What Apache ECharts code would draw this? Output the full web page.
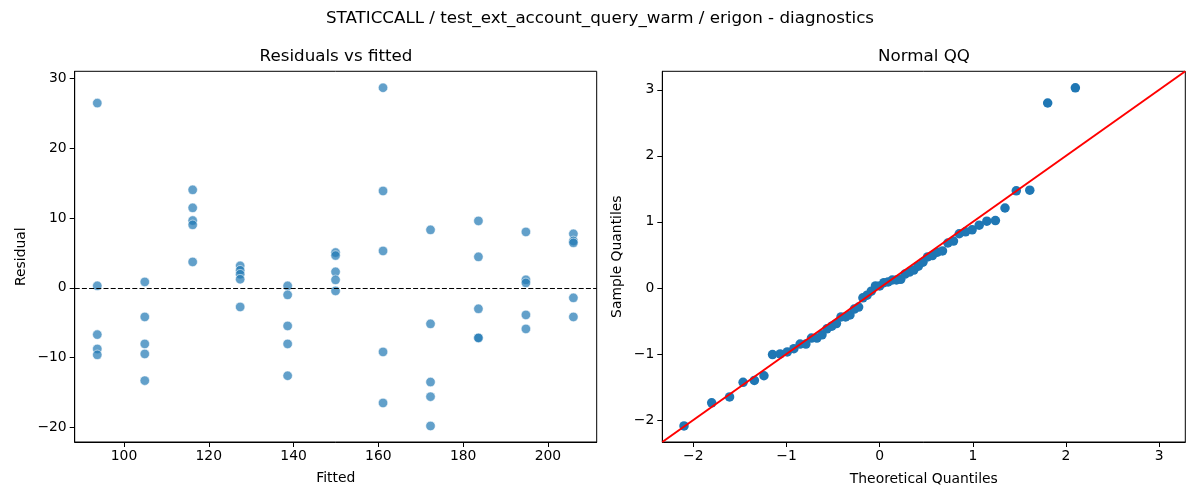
<!DOCTYPE html>
<html>
<head>
<meta charset="utf-8">
<script src="https://cdn.jsdelivr.net/npm/echarts@6/dist/echarts.min.js"></script>
<style>
  html, body { margin: 0; padding: 0; background: #fff; }
  #chart { width: 1200px; height: 500px; }
</style>
</head>
<body>
<div id="chart"></div>
<script>
// residuals vs fitted: one fitted level per group
const fittedLevels = [93.7, 104.9, 116.2, 127.4, 138.6, 149.9, 161.1, 172.3, 183.6, 194.8, 206.0];
const residualGroups = [
  [26.5, 0.3, -6.7, -8.75, -9.6],
  [0.86, -4.16, -8.03, -9.47, -13.3],
  [14.06, 11.48, 9.66, 9.04, 3.73],
  [3.16, 2.53, 1.96, 1.24, -2.73],
  [0.29, -1.0, -5.45, -8.03, -12.6],
  [5.07, 4.64, 2.3, 1.15, -0.43],
  [28.7, 13.9, 5.3, -9.18, -16.5],
  [8.32, -5.16, -13.5, -15.6, -19.8],
  [9.61, 4.45, -3.0, -7.17, -7.17],
  [8.03, 1.15, 0.72, -3.87, -5.88],
  [7.75, 6.74, 6.46, -1.43, -4.16],
];

// normal QQ
const theoreticalQuantiles = [
  -2.100, -1.803, -1.611, -1.466, -1.345, -1.242, -1.150, -1.068, -0.992, -0.921,
  -0.854, -0.792, -0.732, -0.674, -0.619, -0.566, -0.514, -0.464, -0.415, -0.366,
  -0.319, -0.272, -0.226, -0.180, -0.135, -0.090, -0.045, 0.000, 0.045, 0.090,
  0.135, 0.180, 0.226, 0.272, 0.319, 0.366, 0.415, 0.464, 0.514, 0.566,
  0.619, 0.674, 0.732, 0.792, 0.854, 0.921, 0.992, 1.068, 1.150, 1.242,
  1.345, 1.466, 1.611, 1.803, 2.100,
];
const sampleQuantiles = [
  -2.09, -1.74, -1.65, -1.43, -1.40, -1.33, -1.01, -1.00, -0.97, -0.92,
  -0.85, -0.85, -0.76, -0.76, -0.71, -0.62, -0.58, -0.54, -0.44, -0.44,
  -0.41, -0.32, -0.29, -0.15, -0.11, -0.05, 0.03, 0.03, 0.08, 0.09,
  0.12, 0.12, 0.13, 0.21, 0.24, 0.27, 0.33, 0.39, 0.47, 0.49,
  0.54, 0.56, 0.68, 0.71, 0.82, 0.85, 0.88, 0.95, 1.01, 1.02,
  1.21, 1.47, 1.48, 2.80, 3.03,
];
const qqLineEnds = [-2.333, 3.28];

const fittedTicks = [100, 120, 140, 160, 180, 200];
const residualTicks = [-20, -10, 0, 10, 20, 30];
const qqTicks = [-2, -1, 0, 1, 2, 3];

const FONT = "DejaVu Sans";

function fmt(v) {
  return v < 0 ? "\u2212" + Math.abs(v) : String(v);
}

function makeAxis(grid, min, max, ticks, name, nameGap, isY) {
  return {
    gridIndex: grid,
    type: "value",
    min: min,
    max: max,
    name: name,
    nameLocation: "middle",
    nameGap: nameGap,
    nameTextStyle: { color: "#000", fontSize: 13.9, fontFamily: FONT },
    axisLine: { show: true, onZero: false, lineStyle: { color: "#000", width: 1 } },
    axisTick: { show: true, length: 5, customValues: ticks, lineStyle: { color: "#000", width: 1 } },
    axisLabel: { customValues: ticks, formatter: fmt, color: "#000", fontSize: 13.9, fontFamily: FONT, margin: isY ? 8 : 7 },
    splitLine: { show: false },
  };
}

const residualPoints = [];
fittedLevels.forEach((f, i) => {
  residualGroups[i].forEach((r) => residualPoints.push([f, r]));
});
const qqPoints = theoreticalQuantiles.map((t, i) => [t, sampleQuantiles[i]]);

const titleStyle = { fontSize: 16.7, fontWeight: "normal", fontFamily: FONT, color: "#000" };

const chart = echarts.init(document.getElementById("chart"));
chart.setOption({
  animation: false,
  backgroundColor: "#fff",
  title: [
    {
      text: "STATICCALL / test_ext_account_query_warm / erigon - diagnostics",
      left: 600, top: 10, textAlign: "center", padding: 0, textStyle: titleStyle,
    },
    { text: "Residuals vs fitted", left: 336, top: 48, textAlign: "center", padding: 0, textStyle: titleStyle },
    { text: "Normal QQ", left: 924, top: 48, textAlign: "center", padding: 0, textStyle: titleStyle },
  ],
  grid: [
    { left: 74.7, right: 603.3, top: 71.3, bottom: 58, show: true, borderColor: "#000", borderWidth: 1 },
    { left: 662.3, right: 14.7, top: 71.3, bottom: 58, show: true, borderColor: "#000", borderWidth: 1 },
  ],
  xAxis: [
    makeAxis(0, 88.37, 211.5, fittedTicks, "Fitted", 29, false),
    makeAxis(1, qqLineEnds[0], qqLineEnds[1], qqTicks, "Theoretical Quantiles", 30, false),
  ],
  yAxis: [
    makeAxis(0, -22.1, 31.06, residualTicks, "Residual", 46, true),
    makeAxis(1, qqLineEnds[0], qqLineEnds[1], qqTicks, "Sample Quantiles", 38, true),
  ],
  series: [
    {
      type: "scatter",
      xAxisIndex: 0,
      yAxisIndex: 0,
      data: residualPoints,
      symbolSize: 9.5,
      itemStyle: { color: "#1f77b4", opacity: 0.7, borderColor: "#fff", borderWidth: 0.8 },
      markLine: {
        silent: true,
        symbol: "none",
        label: { show: false },
        lineStyle: { color: "#000", type: [5, 2.2], width: 1 },
        data: [{ yAxis: 0 }],
      },
    },
    {
      type: "scatter",
      xAxisIndex: 1,
      yAxisIndex: 1,
      data: qqPoints,
      symbolSize: 9.5,
      itemStyle: { color: "#1f77b4", opacity: 1 },
    },
    {
      type: "line",
      xAxisIndex: 1,
      yAxisIndex: 1,
      data: [[qqLineEnds[0], qqLineEnds[0]], [qqLineEnds[1], qqLineEnds[1]]],
      symbol: "none",
      lineStyle: { color: "#ff0000", width: 2 },
      z: 3,
    },
  ],
});
</script>
</body>
</html>
